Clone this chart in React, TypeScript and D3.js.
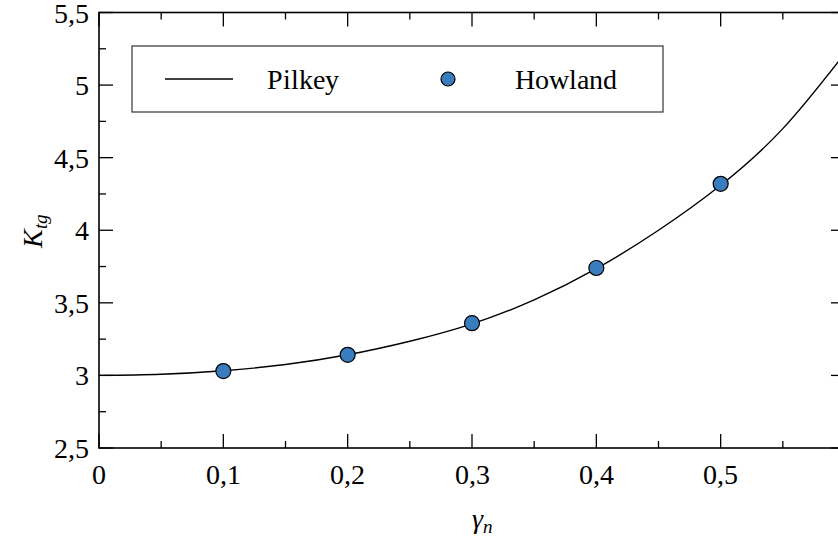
import React from "react";
import * as d3 from "d3";

// Pilkey curve
const pilkeyX = [0, 0.05, 0.1, 0.15, 0.2, 0.25, 0.3, 0.35, 0.4, 0.45, 0.5, 0.55, 0.6];
const pilkeyY = [3.0, 3.008, 3.032, 3.075, 3.142, 3.235, 3.355, 3.52, 3.735, 4.0, 4.31, 4.70, 5.22];

// Howland points
const howlandX = [0.1, 0.2, 0.3, 0.4, 0.5];
const howlandY = [3.03, 3.142, 3.36, 3.74, 4.32];

const xTicks = [0, 0.1, 0.2, 0.3, 0.4, 0.5];
const yTicks = [2.5, 3, 3.5, 4, 4.5, 5, 5.5];
const legendLabels = ["Pilkey", "Howland"];

const W = 838;
const H = 542;
const FONT = "Liberation Serif";
const FS = 28;
const DOT = "#3a7dbe";

const fmt = (v: number) => String(v).replace(".", ",");

const left = 99, right = 845, top = 12.5, bottom = 448;
const x = d3.scaleLinear().domain([0, 0.6]).range([left, right]);
const y = d3.scaleLinear().domain([2.5, 5.5]).range([bottom, top]);

const css = `
@font-face { font-family: "ChartSerif"; src: local("Liberation Serif"), local("LiberationSerif"), local("Times New Roman"); font-style: normal; }
@font-face { font-family: "ChartSerif"; src: local("Liberation Serif Italic"), local("LiberationSerif-Italic"), local("Times New Roman Italic"); font-style: italic; }
svg text { font-family: "ChartSerif", "Liberation Serif", "Times New Roman", serif; }
`;

const App = () => {
  const xMajor = d3.range(0, 0.6001, 0.1);
  const xMinor = d3.range(0.05, 0.6, 0.1);
  const yMajor = d3.range(2.5, 5.5001, 0.5);
  const yMinor = d3.range(2.75, 5.5, 0.5);

  const pts = pilkeyX.map((v, i) => [v, pilkeyY[i]] as [number, number]);
  const line = d3.line<[number, number]>()
    .x((d) => x(d[0])).y((d) => y(d[1]))
    .curve(d3.curveNatural);

  const tk = { stroke: "#000", strokeWidth: 1.3 };

  return (
    <svg
      width={W}
      height={H}
      style={{ position: "absolute", left: 0, top: 0 }}
    >
      <style>{css}</style>
      <rect x={0} y={0} width={W} height={H} fill="#fff" />

      {/* ticks, inward on all four sides */}
      {xMajor.map((v) => (
        <g key={"xM" + v}>
          <line x1={x(v)} x2={x(v)} y1={bottom} y2={bottom - 14} {...tk} />
          <line x1={x(v)} x2={x(v)} y1={top} y2={top + 14} {...tk} />
        </g>
      ))}
      {xMinor.map((v) => (
        <g key={"xm" + v}>
          <line x1={x(v)} x2={x(v)} y1={bottom} y2={bottom - 7} {...tk} />
          <line x1={x(v)} x2={x(v)} y1={top} y2={top + 7} {...tk} />
        </g>
      ))}
      {yMajor.map((v) => (
        <g key={"yM" + v}>
          <line x1={left} x2={left + 14} y1={y(v)} y2={y(v)} {...tk} />
          <line x1={right} x2={right - 14} y1={y(v)} y2={y(v)} {...tk} />
        </g>
      ))}
      {yMinor.map((v) => (
        <g key={"ym" + v}>
          <line x1={left} x2={left + 7} y1={y(v)} y2={y(v)} {...tk} />
          <line x1={right} x2={right - 7} y1={y(v)} y2={y(v)} {...tk} />
        </g>
      ))}

      {/* frame */}
      <rect x={left} y={top} width={right - left} height={bottom - top}
        fill="none" stroke="#000" strokeWidth={1.6} />

      {/* tick labels */}
      {xTicks.map((d) => (
        <text key={"xl" + d} x={x(d)} y={484} textAnchor="middle"
          fontFamily={FONT} fontSize={FS}>{fmt(d)}</text>
      ))}
      {yTicks.map((d) => (
        <text key={"yl" + d} x={89} y={y(d) + 10} textAnchor="end"
          fontFamily={FONT} fontSize={FS}>{fmt(d)}</text>
      ))}

      {/* axis titles */}
      <text x={482} y={528} textAnchor="middle" fontFamily={FONT} fontSize={FS} fontStyle="italic">
        <tspan>γ</tspan>
        <tspan fontSize={19} dy={5}>n</tspan>
      </text>
      <text transform="translate(42,231) rotate(-90)" textAnchor="middle"
        fontFamily={FONT} fontSize={FS} fontStyle="italic">
        <tspan>K</tspan>
        <tspan fontSize={19} dy={5}>tg</tspan>
      </text>

      {/* Pilkey curve */}
      <path d={line(pts) || ""} fill="none" stroke="#000" strokeWidth={1.4} />

      {/* Howland points */}
      {howlandX.map((v, i) => (
        <circle key={"p" + v} cx={x(v)} cy={y(howlandY[i])} r={7.5}
          fill={DOT} stroke="#000" strokeWidth={1.2} />
      ))}

      {/* legend */}
      <rect x={132} y={46} width={531} height={66} fill="#fff" stroke="#444" strokeWidth={1.3} />
      <line x1={165} x2={233} y1={79} y2={79} stroke="#000" strokeWidth={1.4} />
      <text x={267} y={89} fontFamily={FONT} fontSize={FS}>{legendLabels[0]}</text>
      <circle cx={448} cy={79} r={7} fill={DOT} stroke="#000" strokeWidth={1.2} />
      <text x={515} y={89} fontFamily={FONT} fontSize={FS}>{legendLabels[1]}</text>
    </svg>
  );
};

export default App;
